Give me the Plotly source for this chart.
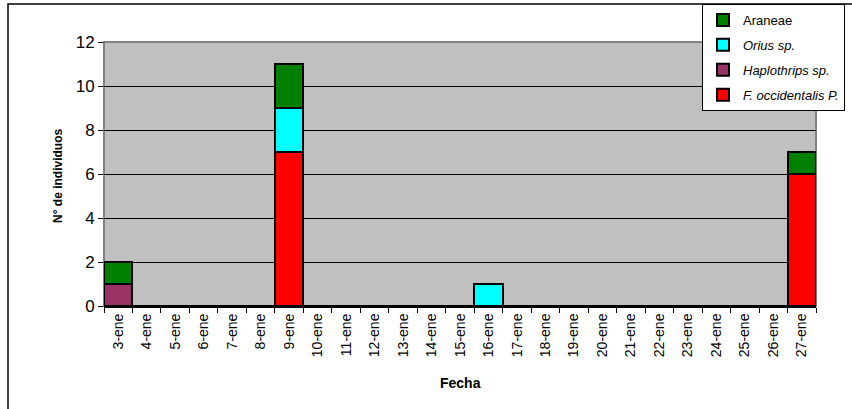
import plotly.graph_objects as go

# Sampling dates (January)
fechas = [f"{d}-ene" for d in range(3, 28)]

# Counts per date, one list per taxon
f_occidentalis = [0, 0, 0, 0, 0, 0, 7, 0, 0, 0, 0, 0, 0, 0, 0, 0, 0, 0, 0, 0, 0, 0, 0, 0, 6]
haplothrips = [1, 0, 0, 0, 0, 0, 0, 0, 0, 0, 0, 0, 0, 0, 0, 0, 0, 0, 0, 0, 0, 0, 0, 0, 0]
orius = [0, 0, 0, 0, 0, 0, 2, 0, 0, 0, 0, 0, 0, 1, 0, 0, 0, 0, 0, 0, 0, 0, 0, 0, 0]
araneae = [1, 0, 0, 0, 0, 0, 2, 0, 0, 0, 0, 0, 0, 0, 0, 0, 0, 0, 0, 0, 0, 0, 0, 0, 1]

series = [
    ("<i>F. occidentalis P.</i>", f_occidentalis, "#FF0000"),
    ("<i>Haplothrips sp.</i>", haplothrips, "#993366"),
    ("<i>Orius sp.</i>", orius, "#00FFFF"),
    ("Araneae", araneae, "#008000"),
]

FONT = "Liberation Sans, Arial, sans-serif"

fig = go.Figure()
for i, (name, vals, color) in enumerate(series):
    # stack bottom-up; legend lists the top segment first
    fig.add_trace(go.Bar(
        x=fechas, y=vals, name=name, legendgroup=f"g{i}",
        legendrank=100 * (len(series) - i),
        marker=dict(color=color, line=dict(color="black", width=2)),
    ))

W, H = 852, 409
L, R, T, B = 104, 36, 42, 103
pw, ph = W - L - R, H - T - B

def px_x(p):
    return (p - L) / pw

def px_y(p):
    return 1 - (p - T) / ph

fig.update_layout(
    width=W, height=H,
    margin=dict(l=L, r=R, t=T, b=B, autoexpand=False),
    barmode="stack", bargap=0,
    paper_bgcolor="white", plot_bgcolor="#C0C0C0",
    font=dict(family=FONT, color="black"),
    showlegend=True,
    legend=dict(
        x=px_x(702), y=px_y(4), xanchor="left", yanchor="top",
        traceorder="grouped", tracegroupgap=5,
        bgcolor="white", bordercolor="black", borderwidth=1,
        font=dict(size=13, family=FONT),
        itemwidth=30,
    ),
    xaxis=dict(
        type="category", tickangle=-90, tickfont=dict(size=14),
        tickson="boundaries", ticks="outside", ticklen=5, tickcolor="black",
        showline=True, linecolor="black", linewidth=2,
        showgrid=False,
    ),
    yaxis=dict(
        range=[0, 12], tickvals=[0, 2, 4, 6, 8, 10, 12],
        tickfont=dict(size=17), ticks="outside", ticklen=5, tickcolor="black",
        showgrid=True, gridcolor="black", gridwidth=1,
        zeroline=False, showline=False,
    ),
    annotations=[
        dict(text="<b>Fecha</b>", xref="paper", yref="paper",
             x=0.5, y=px_y(383), xanchor="center", yanchor="middle",
             showarrow=False, font=dict(size=14)),
        dict(text="<b>N° de individuos</b>", xref="paper", yref="paper",
             x=px_x(58), y=px_y(176), xanchor="center", yanchor="middle",
             textangle=-90, showarrow=False, font=dict(size=12)),
    ],
    shapes=[
        # gray frame of the plotting area
        dict(type="rect", xref="paper", yref="paper", x0=0, x1=1, y0=0, y1=1,
             line=dict(color="#808080", width=2), layer="between"),
        # outer chart border
        dict(type="rect", xref="paper", yref="paper",
             x0=px_x(8), x1=px_x(900), y0=px_y(460), y1=px_y(4),
             line=dict(color="black", width=1.5), layer="below"),
    ],
)

fig.write_html("out.html")
